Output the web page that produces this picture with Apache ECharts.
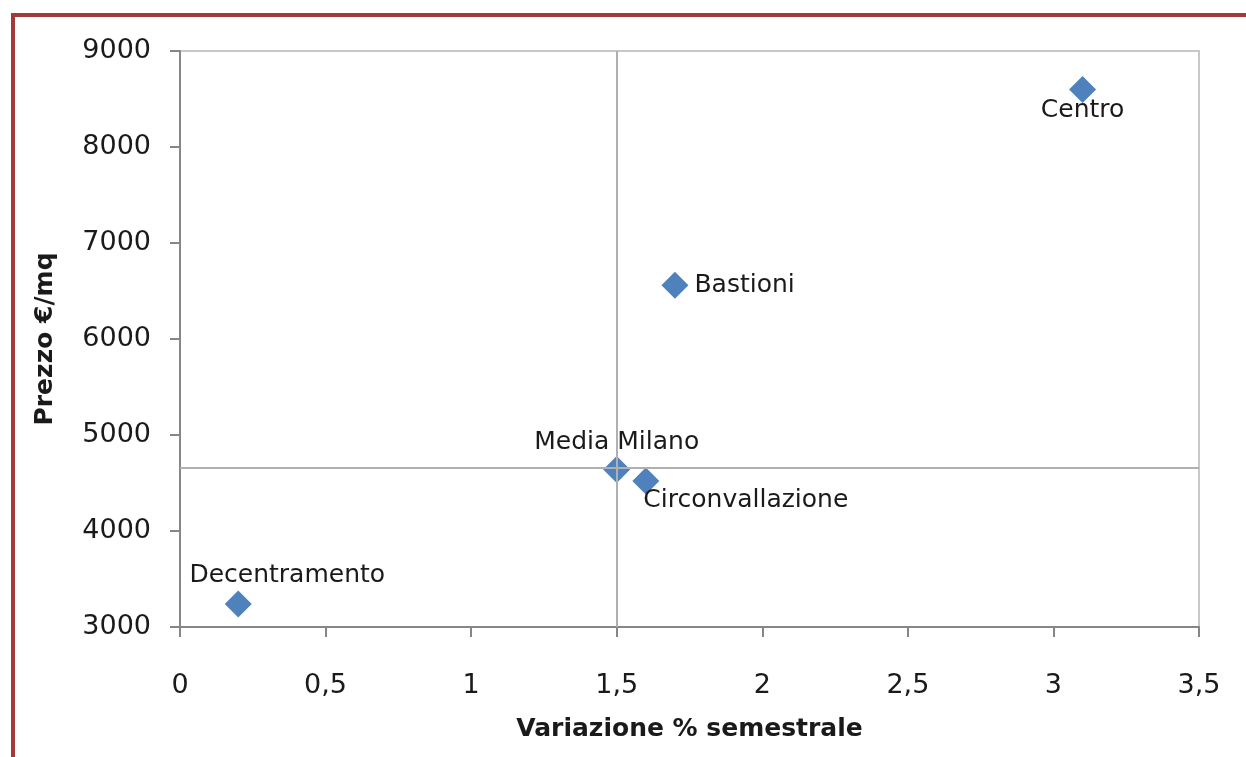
<!DOCTYPE html>
<html>
<head>
<meta charset="utf-8">
<title>Prezzo vs variazione</title>
<script src="https://cdn.jsdelivr.net/npm/echarts@6/dist/echarts.min.js"></script>
<style>
  html, body { margin: 0; padding: 0; background: #fff; }
  #chart { width: 1246px; height: 757px; }
</style>
</head>
<body>
<div id="chart"></div>
<script>
// dati
var zone = ['Decentramento', 'Media Milano', 'Circonvallazione', 'Bastioni', 'Centro'];
var variazione = [0.2, 1.5, 1.6, 1.7, 3.1];
var prezzo = [3240, 4640, 4520, 6560, 8600];

// linee di riferimento (media Milano)
var mediaX = 1.5;
var mediaY = 4660;

var xTickLabels = ['0', '0,5', '1', '1,5', '2', '2,5', '3', '3,5'];
var yTickLabels = ['3000', '4000', '5000', '6000', '7000', '8000', '9000'];

var FONT = 'DejaVu Sans';
var TEXT = '#1a1a1a';

// posizione delle etichette per punto
var labelStyle = {
    'Decentramento': { position: 'top', distance: 2, offset: [49, 0] },
    'Media Milano': { position: 'top', distance: 1, offset: [0, 0] },
    'Circonvallazione': { position: 'bottom', distance: 0, offset: [100, -7] },
    'Bastioni': { position: 'right', distance: 6, offset: [0, 0] },
    'Centro': { position: 'bottom', distance: 0, offset: [0, -5] }
};

var points = zone.map(function (name, i) {
    return {
        name: name,
        value: [variazione[i], prezzo[i]],
        label: labelStyle[name]
    };
});

var chart = echarts.init(document.getElementById('chart'));
chart.setOption({
    animation: false,
    backgroundColor: '#fff',
    graphic: [{
        type: 'rect',
        shape: { x: 13, y: 15, width: 1300, height: 900 },
        style: { fill: 'none', stroke: '#a33a3a', lineWidth: 4 },
        silent: true
    }],
    grid: {
        left: 180,
        right: 47,
        top: 51,
        bottom: 130,
        show: true,
        borderColor: '#c8c8c8',
        borderWidth: 2
    },
    xAxis: {
        type: 'value',
        min: 0,
        max: 3.5,
        interval: 0.5,
        name: 'Variazione % semestrale',
        nameLocation: 'middle',
        nameGap: 90,
        nameTextStyle: { fontFamily: FONT, fontSize: 25, fontWeight: 'bold', color: TEXT },
        axisLine: { show: true, lineStyle: { color: '#868686', width: 2 } },
        axisTick: { show: true, length: 10, lineStyle: { color: '#868686', width: 2 } },
        splitLine: { show: false },
        axisLabel: {
            margin: 45,
            fontFamily: FONT,
            fontSize: 27,
            color: TEXT,
            formatter: function (v) { return xTickLabels[Math.round(v / 0.5)]; }
        }
    },
    yAxis: {
        type: 'value',
        min: 3000,
        max: 9000,
        interval: 1000,
        name: 'Prezzo €/mq',
        nameLocation: 'middle',
        nameGap: 122,
        nameTextStyle: { fontFamily: FONT, fontSize: 25, fontWeight: 'bold', color: TEXT },
        axisLine: { show: true, lineStyle: { color: '#868686', width: 2 } },
        axisTick: { show: true, length: 10, lineStyle: { color: '#868686', width: 2 } },
        splitLine: { show: false },
        axisLabel: {
            margin: 29,
            fontFamily: FONT,
            fontSize: 27,
            color: TEXT,
            formatter: function (v) { return yTickLabels[Math.round((v - 3000) / 1000)]; }
        }
    },
    series: [{
        type: 'scatter',
        symbol: 'diamond',
        symbolSize: 27,
        itemStyle: { color: '#4f81bd', opacity: 1 },
        label: {
            show: true,
            formatter: '{b}',
            fontFamily: FONT,
            fontSize: 25,
            color: TEXT
        },
        markLine: {
            silent: true,
            symbol: 'none',
            label: { show: false },
            lineStyle: { color: '#b0b0b0', width: 2, type: 'solid', opacity: 1 },
            data: [{ xAxis: mediaX }, { yAxis: mediaY }]
        },
        data: points
    }]
});
</script>
</body>
</html>
